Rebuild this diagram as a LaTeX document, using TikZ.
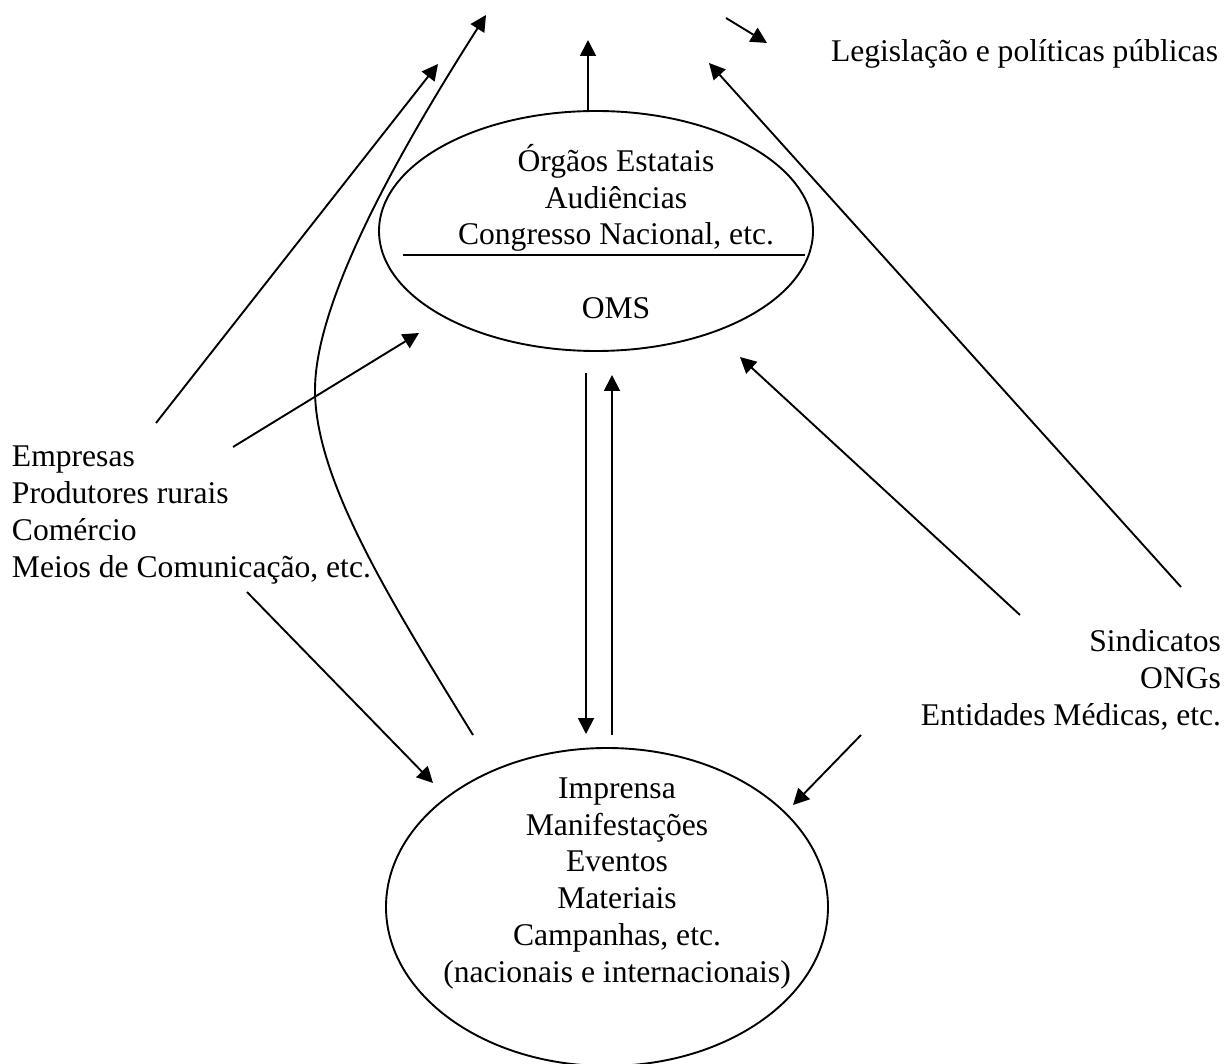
\documentclass[tikz,border=0pt]{standalone}
\usepackage{fontspec}
\setmainfont{Liberation Serif}
\usetikzlibrary{arrows.meta,shapes.geometric}
\begin{document}
\begin{tikzpicture}[x=1pt,y=-1pt,
  every node/.style={inner sep=0pt,outer sep=0pt,font=\fontsize{31.6}{36.7}\selectfont},
  conn/.style={line width=1.9pt,-{Triangle[length=16pt,width=16pt]}},
  oval/.style={draw,line width=1.9pt,ellipse}]
\useasboundingbox (0,0) rectangle (1227,1064);
% ellipses
\node[oval,minimum width=434pt,minimum height=240pt] (topE) at (596,231) {};
\node[oval,minimum width=442pt,minimum height=318pt] (botE) at (607,907) {};
% texts (base anchor = baseline of last line)
\node[anchor=base,align=center] (topT) at (616,245) {Órgãos Estatais\\Audiências\\Congresso Nacional, etc.};
\node[anchor=base] (oms) at (616,319) {OMS};
\node[anchor=base,align=center] (botT) at (617,982) {Imprensa\\Manifestações\\Eventos\\Materiais\\Campanhas, etc.\\(nacionais e internacionais)};
\node[anchor=base west] (legis) at (831,62) {Legislação e políticas públicas};
\node[anchor=base west,align=left] (emp) at (12,577) {Empresas\\Produtores rurais\\Comércio\\Meios de Comunicação, etc.};
\node[anchor=base east,align=right] (sind) at (1221,725) {Sindicatos\\ONGs\\Entidades Médicas, etc.};
% divider
\coordinate (dL) at (403,255);
\coordinate (dR) at (805,255);
\draw[line width=1.9pt] (dL) -- (dR);
% arrow endpoints
\coordinate (a1s) at (156,423); \coordinate (a1e) at (438,64);
\coordinate (a2s) at (233,447); \coordinate (a2e) at (419,333);
\coordinate (a3s) at (473,735); \coordinate (a3m) at (315,390); \coordinate (a3e) at (486,15);
\coordinate (a4s) at (588,111); \coordinate (a4e) at (588,40);
\coordinate (a5s) at (726,18);  \coordinate (a5e) at (767,43);
\coordinate (a6s) at (1181,587); \coordinate (a6e) at (709,63);
\coordinate (a7s) at (1020,615); \coordinate (a7e) at (740,357);
\coordinate (a8s) at (861,735); \coordinate (a8e) at (793,805);
\coordinate (a9s) at (247,592); \coordinate (a9e) at (433,783);
\coordinate (a10s) at (586,373); \coordinate (a10e) at (586,734);
\coordinate (a11s) at (612,735); \coordinate (a11e) at (612,375);
\draw[conn] (a1s) -- (a1e);
\draw[conn] (a2s) -- (a2e);
\draw[conn] (a3s) .. controls (390,600) and (315,480) .. (a3m) .. controls (315,300) and (400,150) .. (a3e);
\draw[conn] (a4s) -- (a4e);
\draw[conn] (a5s) -- (a5e);
\draw[conn] (a6s) -- (a6e);
\draw[conn] (a7s) -- (a7e);
\draw[conn] (a8s) -- (a8e);
\draw[conn] (a9s) -- (a9e);
\draw[conn] (a10s) -- (a10e);
\draw[conn] (a11s) -- (a11e);
\end{tikzpicture}
\end{document}
